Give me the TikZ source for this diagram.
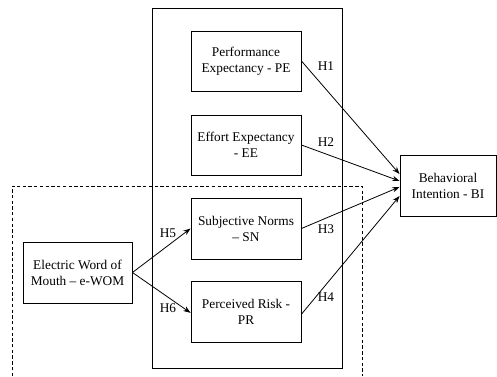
\documentclass[tikz,border=0pt]{standalone}
\usepackage{fontspec}
\setmainfont{Liberation Serif}
\usetikzlibrary{arrows.meta}
\begin{document}
\begin{tikzpicture}[x=0.75pt,y=-0.75pt,
  box/.style={draw,line width=0.7pt,align=center,inner sep=2pt,font=\fontsize{10}{12}\selectfont},
  arr/.style={-{Stealth[length=5.5pt,width=4pt]},line width=0.6pt},
  hl/.style={font=\fontsize{10}{12}\selectfont}]
\useasboundingbox (0,0) rectangle (497,376);
\draw[line width=0.6pt,dash pattern=on 2.5pt off 1.8pt] (12,376) -- (12,186) -- (362,186) -- (362,376);
\draw[line width=0.7pt] (152,8) rectangle (342,368);
\node[box,minimum width=82.5pt,minimum height=45pt] (PE) at (246,61) {Performance\\Expectancy - PE};
\node[box,minimum width=82.5pt,minimum height=45pt] (EE) at (246,145) {Effort Expectancy\\- EE};
\node[box,minimum width=82.5pt,minimum height=45.75pt] (SN) at (246,228.5) {Subjective Norms\\– SN};
\node[box,minimum width=82.5pt,minimum height=45.75pt] (PR) at (246,311.5) {Perceived Risk -\\PR};
\node[box,minimum width=81.75pt,minimum height=45.75pt] (EW) at (77.5,272.5) {Electric Word of\\Mouth – e-WOM};
\node[box,minimum width=72pt,minimum height=45.75pt] (BI) at (448,185.5) {Behavioral\\Intention - BI};
\coordinate (t1) at ([yshift=8.6pt]BI.west);
\coordinate (t2) at ([yshift=3.4pt]BI.west);
\coordinate (t3) at ([yshift=-1.1pt]BI.west);
\coordinate (t4) at ([yshift=-7.9pt]BI.west);
\draw[arr] (PE.east) -- (t1);
\draw[arr] (EE.east) -- (t2);
\draw[arr] (SN.east) -- (t3);
\draw[arr] ([yshift=-2pt]PR.east) -- (t4);
\draw[arr] (EW.east) -- (SN.west);
\draw[arr] (EW.east) -- ([yshift=-1pt]PR.west);
\node[hl] (h1) at (326,66) {H1};
\node[hl] (h2) at (326,142) {H2};
\node[hl] (h3) at (326,229) {H3};
\node[hl] (h4) at (326,297) {H4};
\node[hl] (h5) at (168,233) {H5};
\node[hl] (h6) at (168,308) {H6};
\end{tikzpicture}
\end{document}
